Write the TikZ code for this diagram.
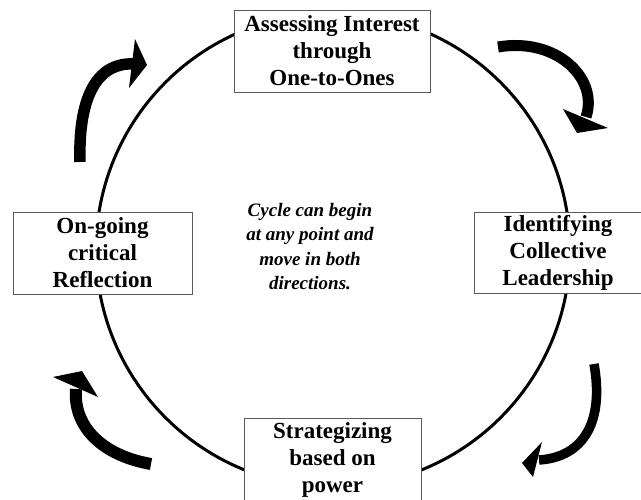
\documentclass[tikz,border=0pt]{standalone}
\usepackage{fontspec}
\setmainfont{Liberation Serif}
\begin{document}
\begin{tikzpicture}[x=1pt,y=-1pt,
  box/.style={draw=black!65, line width=0.8pt, fill=white, align=center,
    font=\fontsize{23}{27}\selectfont\bfseries, inner sep=0pt},
  arrowbody/.style={line width=11pt, line cap=butt},
  arrowhead/.style={fill=black}]
\useasboundingbox (0,0) rectangle (641,499);
\fill[white] (0,0) rectangle (641,499);
% main circle
\coordinate (c) at (333,250);
\draw[line width=3pt] (c) circle[radius=237];
% boxes
\node[box, minimum width=196pt, minimum height=82pt] (top) at (332,51)
  {Assessing Interest\\through\\One-to-Ones};
\node[box, minimum width=179pt, minimum height=82pt] (left) at (102.5,253)
  {On-going\\critical\\Reflection};
\node[box, minimum width=168pt, minimum height=81pt] (right) at (558,252.5)
  {Identifying\\Collective\\Leadership};
\node[box, minimum width=177pt, minimum height=84pt] (bottom) at (332.5,460)
  {Strategizing\\based on\\power};
% centre text
\node[align=center, font=\fontsize{19}{24.5}\selectfont\bfseries\itshape] (mid) at (310,246.5)
  {Cycle can begin\\at any point and\\move in both\\directions.};
% curved arrows
% top-left
\coordinate (tlA) at (80,162);
\coordinate (tlB) at (134,64);
\draw[arrowbody, line width=11.5pt] (tlA) .. controls (78,92) and (100,62) .. (tlB);
\fill[arrowhead] (135,39) -- (147,65) -- (129,88) -- cycle;
% top-right
\coordinate (trA) at (498,47);
\coordinate (trB) at (586,117);
\draw[arrowbody] (trA) .. controls (556,37) and (599,78) .. (trB);
\fill[arrowhead] (563,109) -- (608,128) -- (577,133) -- cycle;
% bottom-right
\coordinate (brA) at (594,364);
\coordinate (brB) at (539,460);
\draw[arrowbody, line width=9.5pt] (brA) .. controls (604,420) and (585,457) .. (brB);
\fill[arrowhead] (542,442) -- (522,463) -- (533,477) -- cycle;
% bottom-left
\coordinate (blA) at (151,464);
\coordinate (blB) at (76,389);
\draw[arrowbody, line width=12pt] (blA) .. controls (100,455) and (73,425) .. (blB);
\fill[arrowhead] (53,377) -- (82,371) -- (98,397) -- cycle;
\end{tikzpicture}
\end{document}
